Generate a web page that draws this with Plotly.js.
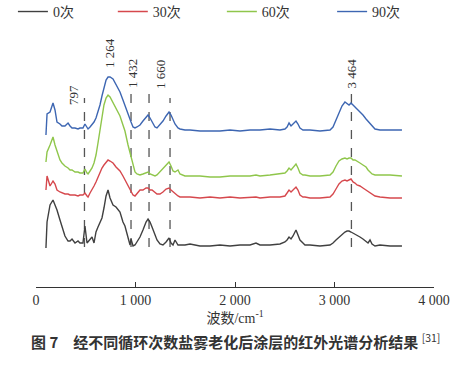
<!DOCTYPE html>
<html>
<head>
<meta charset="utf-8">
<script src="https://cdn.plot.ly/plotly-3.0.1.min.js"></script>
<style>html,body{margin:0;padding:0;background:#fff;}#chart{width:455px;height:367px;}</style>
</head>
<body>
<div id="chart"></div>
<script>
// wavenumber axis values (as plotted)
const wavenumber = [100,111,141,171,191,211,241,261,291,322,342,362,392,422,442,472,492,513,523,543,563,583,603,623,643,663,683,704,724,744,774,804,844,874,894,925,945,955,975,995,1015,1045,1075,1106,1126,1146,1166,1196,1216,1246,1276,1307,1337,1357,1377,1397,1427,1447,1497,1548,1648,1749,1849,1950,2050,2151,2211,2251,2352,2452,2502,2523,2543,2563,2583,2613,2633,2653,2683,2703,2754,2854,2955,2985,3015,3045,3075,3105,3126,3146,3166,3186,3206,3226,3256,3286,3317,3337,3357,3377,3407,3457,3558,3678];

const series0 = [39,65,82,87,82,77,67,60,51,46,46,48,44,46,44,44,61,44,45,47,50,44,55,60,64,69,79,91,97,89,82,80,75,65,61,50,42,48,41,42,45,50,57,65,68,65,60,53,47,43,42,45,49,44,42,47,42,42,42,43,41,41,42,41,42,42,44,42,42,43,45,47,50,48,51,57,52,47,44,42,42,41,42,44,47,50,52,55,56,56,55,54,53,52,50,48,45,44,47,43,41,42,41,41];

const series30 = [97,111,101,106,103,97,95,94,93,93,92,92,92,91,92,92,94,91,90,94,97,101,105,110,115,119,122,125,127,126,124,120,116,111,107,101,97,95,92,91,93,97,97,99,99,97,97,94,93,93,95,98,99,97,95,93,91,90,90,90,89,90,89,90,89,90,90,89,90,90,91,94,97,95,97,100,97,92,90,90,89,89,90,93,98,103,106,107,106,107,108,105,104,102,101,99,97,95,94,93,91,90,89,89];

const series60 = [125,135,142,150,142,135,127,124,121,119,117,117,115,115,114,114,118,114,113,116,119,124,132,144,157,170,182,189,192,190,184,179,171,162,156,142,134,129,121,115,113,112,113,114,115,113,112,111,112,115,119,122,125,121,116,115,117,113,111,111,111,110,110,111,111,111,112,111,112,113,114,116,119,117,119,123,119,114,112,112,111,111,112,115,121,126,128,129,128,129,129,127,127,126,124,122,120,117,115,113,112,112,112,111];

const series90 = [152,173,175,184,177,165,163,161,161,164,161,159,159,158,159,159,163,159,158,160,162,165,169,175,182,191,200,207,210,210,208,203,195,187,181,174,168,165,160,159,160,162,166,170,172,169,165,160,159,162,166,171,175,172,167,163,159,158,157,157,156,156,156,157,156,157,157,157,158,157,158,160,164,161,163,166,163,159,157,157,157,156,157,160,167,175,181,185,183,182,184,182,180,179,176,172,168,166,164,161,158,157,157,157];

const seriesNames = ['0次','30次','60次','90次'];
const seriesColors = ['#404040','#d6484d','#8fc64b','#3d66b2'];

const markerPositions = [487, 955, 1136, 1347, 3170];
const markerTops = [189, 199, 202, 189, 195];
const markerBottom = 40;

const peakLabels = ['797','1 264','1 432','1 660','3 464'];
const peakLabelX = [372, 734, 965, 1246, 3170];
const peakLabelY = [192, 234, 213, 213, 214];

const tickVals = [0,1000,2000,3000,4000];
const tickText = ['0','1 000','2 000','3 000','4 000'];

const legendX = [-0.058, 0.193, 0.467, 0.744];
const legendIds = ['legend','legend2','legend3','legend4'];

const serif = '"Times New Roman", "Liberation Serif", "DejaVu Serif", "Noto Sans CJK SC", serif';
const allSeries = [series0, series30, series60, series90];

const traces = allSeries.map((s, i) => ({
  x: wavenumber, y: s, type: 'scatter', mode: 'lines',
  name: seriesNames[i], legend: legendIds[i],
  line: {color: seriesColors[i], width: 1.4}
}));

const shapes = markerPositions.map((p, i) => ({
  type: 'line', xref: 'x', yref: 'y', x0: p, x1: p, y0: markerBottom, y1: markerTops[i],
  line: {color: '#555', width: 1.3, dash: 'dash'}, layer: 'below'
}));

const annotations = peakLabels.map((t, i) => ({
  text: t, x: peakLabelX[i], y: peakLabelY[i], xref: 'x', yref: 'y',
  showarrow: false, textangle: -90, font: {family: serif, size: 13, color: '#333'}
}));
annotations.push({
  text: '<b>图 7　经不同循环次数盐雾老化后涂层的红外光谱分析结果</b> <sup>[31]</sup>',
  xref: 'paper', yref: 'paper', x: 0.5, y: -0.208, yanchor: 'middle', xanchor: 'center',
  showarrow: false, font: {family: '"Noto Sans CJK SC", sans-serif', size: 15, color: '#333'}
});

const layout = {
  width: 455, height: 367,
  margin: {l: 36, r: 21, t: 27, b: 80, autoexpand: false},
  paper_bgcolor: '#fff', plot_bgcolor: '#fff',
  showlegend: true,
  xaxis: {range: [0, 4000], tickvals: tickVals, ticktext: tickText, automargin: false,
    showline: true, linecolor: '#333', linewidth: 1, ticks: 'inside', ticklen: 5, tickcolor: '#333',
    showgrid: false, zeroline: false,
    tickfont: {family: serif, size: 14, color: '#333'},
    title: {text: '波数/cm<sup>-1</sup>', font: {family: serif, size: 14, color: '#333'}, standoff: 2}},
  yaxis: {range: [0, 260], visible: false, showgrid: false, zeroline: false, fixedrange: true, automargin: false},
  shapes: shapes,
  annotations: annotations
};
legendIds.forEach((id, i) => {
  layout[id] = {orientation: 'h', x: legendX[i], xanchor: 'left', y: 1.058, yanchor: 'middle',
    itemwidth: 30, font: {family: serif, size: 14, color: '#333'}, bgcolor: 'rgba(0,0,0,0)'};
});

Plotly.newPlot('chart', traces, layout, {displayModeBar: false, staticPlot: true});
</script>
</body>
</html>
